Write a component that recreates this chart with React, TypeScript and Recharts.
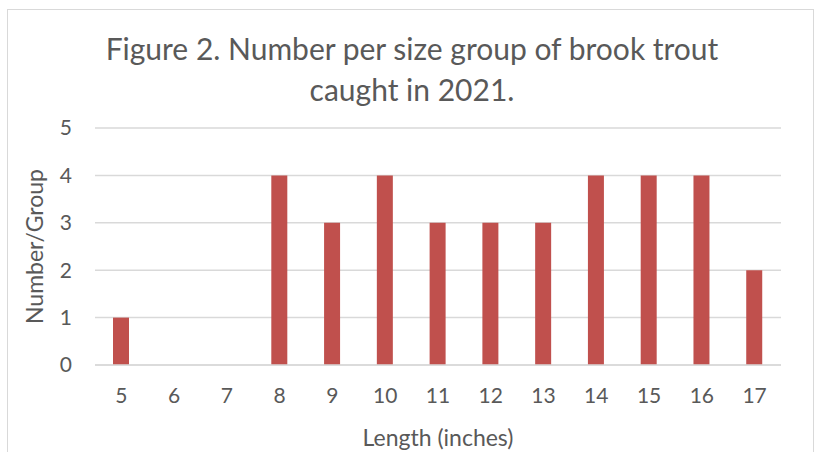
import React from 'react';
import { BarChart, Bar, XAxis, YAxis, CartesianGrid } from 'recharts';

const lengths = ['5', '6', '7', '8', '9', '10', '11', '12', '13', '14', '15', '16', '17'];
const counts = [1, 0, 0, 4, 3, 4, 3, 3, 3, 4, 4, 4, 2];
const yTicks = [0, 1, 2, 3, 4, 5];

const data = lengths.map((len, i) => ({ len, count: counts[i] }));

const FONT = 'Lato, "Open Sans", sans-serif';
const TEXT = '#595959';

const App: React.FC = () => {
  return (
    <div
      style={{
        position: 'absolute',
        left: 0,
        top: 0,
        width: 827,
        height: 452,
        background: '#fff',
        overflow: 'hidden',
        fontFamily: FONT,
      }}
    >
      <div
        style={{
          position: 'absolute',
          left: 7,
          top: 9,
          width: 805,
          height: 480,
          border: '1px solid #D9D9D9',
        }}
      />
      <div
        style={{
          position: 'absolute',
          left: 0,
          width: 824,
          top: 28,
          textAlign: 'center',
          fontSize: 30,
          lineHeight: '41px',
          color: TEXT,
        }}
      >
        Figure 2. Number per size group of brook trout
        <br />
        caught in 2021.
      </div>
      <div style={{ position: 'absolute', left: 0, top: 0 }}>
        <BarChart
          width={827}
          height={452}
          data={data}
          margin={{ top: 128, right: 46, bottom: 0, left: 55 }}
          barSize={16}
        >
          <CartesianGrid vertical={false} stroke="#D9D9D9" strokeWidth={1.5} />
          <XAxis
            dataKey="len"
            axisLine={{ stroke: '#D9D9D9', strokeWidth: 1.5 }}
            tickLine={false}
            tickMargin={17}
            tick={{ fontSize: 21, fill: TEXT, fontFamily: FONT }}
            height={87}
            label={{
              value: 'Length (inches)',
              position: 'insideBottom',
              offset: 6,
              style: { fontSize: 23, fill: TEXT, fontFamily: FONT },
            }}
          />
          <YAxis
            domain={[0, 5]}
            ticks={yTicks}
            axisLine={false}
            tickLine={false}
            width={40}
            dx={-15}
            tick={{ fontSize: 21, fill: TEXT, fontFamily: FONT }}
            label={{
              value: 'Number/Group',
              angle: -90,
              position: 'center',
              dx: -40,
              style: { fontSize: 23, fill: TEXT, fontFamily: FONT, textAnchor: 'middle' },
            }}
          />
          <Bar dataKey="count" fill="#C0504D" isAnimationActive={false} />
        </BarChart>
      </div>
    </div>
  );
};

export default App;
